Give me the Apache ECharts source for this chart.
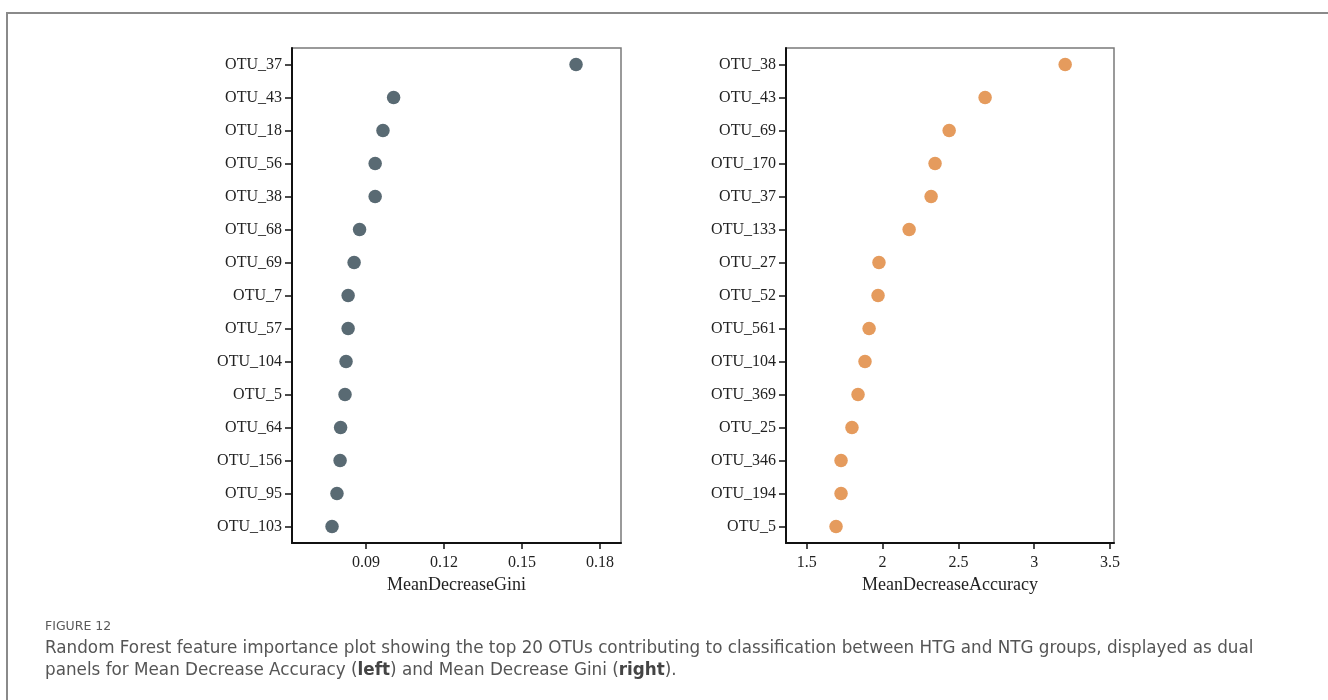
<!DOCTYPE html>
<html>
<head>
<meta charset="utf-8">
<script src="https://cdn.jsdelivr.net/npm/echarts@6/dist/echarts.min.js"></script>
<style>
  html, body { margin: 0; padding: 0; background: #fff; }
  #chart { width: 1328px; height: 700px; }
</style>
</head>
<body>
<div id="chart"></div>
<script>
// Mean Decrease Gini panel
const giniOtus = ['OTU_37','OTU_43','OTU_18','OTU_56','OTU_38','OTU_68','OTU_69','OTU_7','OTU_57','OTU_104','OTU_5','OTU_64','OTU_156','OTU_95','OTU_103'];
const giniValues = [0.1708,0.1006,0.0965,0.0935,0.0935,0.0875,0.0854,0.0831,0.0831,0.0823,0.0819,0.0802,0.0800,0.0788,0.0769];
const giniTicks = [0.09,0.12,0.15,0.18];

// Mean Decrease Accuracy panel
const accOtus = ['OTU_38','OTU_43','OTU_69','OTU_170','OTU_37','OTU_133','OTU_27','OTU_52','OTU_561','OTU_104','OTU_369','OTU_25','OTU_346','OTU_194','OTU_5'];
const accValues = [3.204,2.676,2.439,2.346,2.320,2.175,1.976,1.970,1.911,1.884,1.838,1.798,1.726,1.726,1.693];
const accTicks = [1.5,2,2.5,3,3.5];

const serif = 'Liberation Serif';
const sans = 'DejaVu Sans';

function yAxisFor(cats, idx) {
  return {
    type: 'category', gridIndex: idx, data: cats, inverse: true,
    axisLine: { show: true, lineStyle: { color: '#111', width: 2 } },
    axisTick: { show: true, alignWithLabel: true, length: 7, lineStyle: { color: '#111', width: 1.5 } },
    axisLabel: { color: '#222', fontFamily: serif, fontSize: 16, margin: 10 },
    splitLine: { show: false }
  };
}
function xAxisFor(idx, min, max, ticks, name, fmt) {
  return {
    type: 'value', gridIndex: idx, min: min, max: max,
    name: name, nameLocation: 'middle', nameGap: 28,
    nameTextStyle: { color: '#222', fontFamily: serif, fontSize: 18 },
    axisLine: { show: true, lineStyle: { color: '#111', width: 2 } },
    axisTick: { show: true, length: 6, customValues: ticks, lineStyle: { color: '#111', width: 1.5 } },
    axisLabel: { color: '#222', fontFamily: serif, fontSize: 16, margin: 12, customValues: ticks, formatter: fmt },
    splitLine: { show: false }
  };
}

const option = {
  backgroundColor: '#fff',
  animation: false,
  graphic: [
    { type: 'rect', shape: { x: 7, y: 13, width: 1340, height: 720 },
      style: { fill: 'none', stroke: '#8a8a8a', lineWidth: 2 }, z: -10 }
  ],
  title: [
    { text: 'FIGURE 12', left: 40, top: 615,
      textStyle: { fontFamily: sans, fontSize: 12.5, fontWeight: 'normal', color: '#5a5a5a' } },
    { text: 'Random Forest feature importance plot showing the top 20 OTUs contributing to classification between HTG and NTG groups, displayed as dual\npanels for Mean Decrease Accuracy ({b|left}) and Mean Decrease Gini ({b|right}).',
      left: 40, top: 633,
      textStyle: { fontFamily: sans, fontSize: 16.8, fontWeight: 'normal', color: '#555', lineHeight: 22,
        rich: { b: { fontFamily: sans, fontSize: 16.8, fontWeight: 'bold', color: '#444', lineHeight: 22 } } } }
  ],
  grid: [
    { left: 292, top: 48, width: 329, height: 495, show: true, borderColor: '#7a7a7a', borderWidth: 1.5, backgroundColor: 'transparent' },
    { left: 786, top: 48, width: 328, height: 495, show: true, borderColor: '#7a7a7a', borderWidth: 1.5, backgroundColor: 'transparent' }
  ],
  xAxis: [
    xAxisFor(0, 0.0615, 0.1881, giniTicks, 'MeanDecreaseGini', v => v.toFixed(2)),
    xAxisFor(1, 1.363, 3.526, accTicks, 'MeanDecreaseAccuracy', v => String(+v.toFixed(1)))
  ],
  yAxis: [ yAxisFor(giniOtus, 0), yAxisFor(accOtus, 1) ],
  series: [
    { type: 'scatter', xAxisIndex: 0, yAxisIndex: 0, symbolSize: 13.5,
      itemStyle: { color: '#596a73', opacity: 1 },
      data: giniValues.map((v, i) => [v, giniOtus[i]]) },
    { type: 'scatter', xAxisIndex: 1, yAxisIndex: 1, symbolSize: 13.5,
      itemStyle: { color: '#e59b5d', opacity: 1 },
      data: accValues.map((v, i) => [v, accOtus[i]]) }
  ]
};

echarts.init(document.getElementById('chart'), null, { renderer: 'canvas' }).setOption(option);
</script>
</body>
</html>
